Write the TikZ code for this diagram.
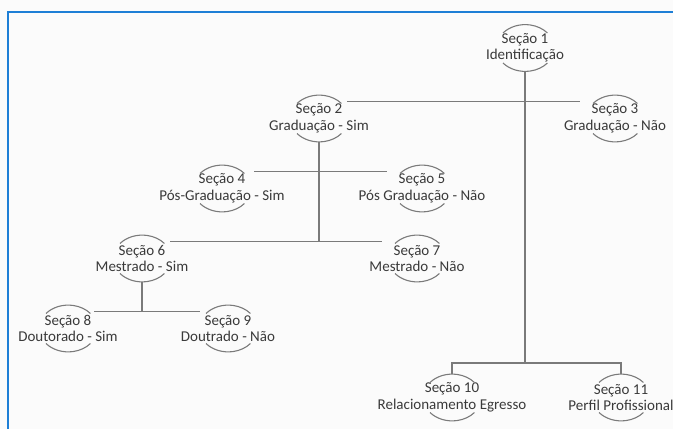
\documentclass[tikz,border=0pt]{standalone}
\usepackage{fontspec}
\setmainfont{Carlito}
\usetikzlibrary{arrows}
\definecolor{framecol}{HTML}{1E7FD6}
\definecolor{linecol}{HTML}{7A7A7A}
\definecolor{textcol}{HTML}{3A3A3A}

\begin{document}
\begin{tikzpicture}[x=1pt, y=1pt,
    secao/.style={align=center, text=textcol, minimum width=62pt, minimum height=47pt,
        inner sep=0pt, font=\fontsize{15}{16.5}\selectfont},
    rim/.style={draw=linecol, line width=1.1pt},
    link/.style={draw=linecol, line width=1.8pt}]
    % page
    \fill [black!1.5] (0,0) rectangle (673,429);
    \useasboundingbox (0,0) rectangle (673,429);
    \draw [framecol, line width=1.5pt] (8,0) -- (8,417) -- (673,417);

    % sections
    \node [secao] (s1)  at (525,381)   {Seção 1\\Identificação};
    \node [secao] (s2)  at (319,310.5) {Seção 2\\Graduação - Sim};
    \node [secao] (s3)  at (615,310.5) {Seção 3\\Graduação - Não};
    \node [secao] (s4)  at (222,240.5) {Seção 4\\Pós-Graduação - Sim};
    \node [secao] (s5)  at (422,240.5) {Seção 5\\Pós Graduação - Não};
    \node [secao] (s6)  at (142,170.5) {Seção 6\\Mestrado - Sim};
    \node [secao] (s7)  at (417,170.5) {Seção 7\\Mestrado - Não};
    \node [secao] (s8)  at (68,100.5)  {Seção 8\\Doutorado - Sim};
    \node [secao] (s9)  at (228,100.5) {Seção 9\\Doutrado - Não};
    \node [secao] (s10) at (452,31.5)  {Seção 10\\Relacionamento Egresso};
    \node [secao] (s11) at (621,31.5)  {Seção 11\\Perfil Profissional};

    % rims above and below each section
    \foreach \n in {1,...,11}
        \draw [rim] ([shift={(-22pt,15pt)}]s\n.center)
                arc [start angle=140, end angle=40, x radius=29pt, y radius=23.5pt]
            ([shift={(-22pt,-15pt)}]s\n.center)
                arc [start angle=220, end angle=320, x radius=29pt, y radius=23.5pt];

    % junctions
    \coordinate (m89) at ([shift={(26pt,17pt)}]s8.center);
    \coordinate (m67) at ([shift={(28pt,17pt)}]s6.center);
    \coordinate (bus) at ([yshift=11pt]s10.north);

    % connectors
    \draw [link] ([shift={(28pt,17pt)}]s2.center) -- ([shift={(-35pt,17pt)}]s3.center)
        ([shift={(32pt,17pt)}]s4.center) -- ([shift={(-35pt,17pt)}]s5.center)
        (m67) -- ([shift={(-35pt,17pt)}]s7.center)
        (m89) -- ([shift={(-28pt,17pt)}]s9.center);
    \draw [link] (s2.south) -- (s2.south |- m67)
        (s6.south) -- (s6.south |- m89)
        (s1.south) -- (s1.south |- bus);
    \draw [link] (s10.north) |- (bus) -| (s11.north);
\end{tikzpicture}
\end{document}
